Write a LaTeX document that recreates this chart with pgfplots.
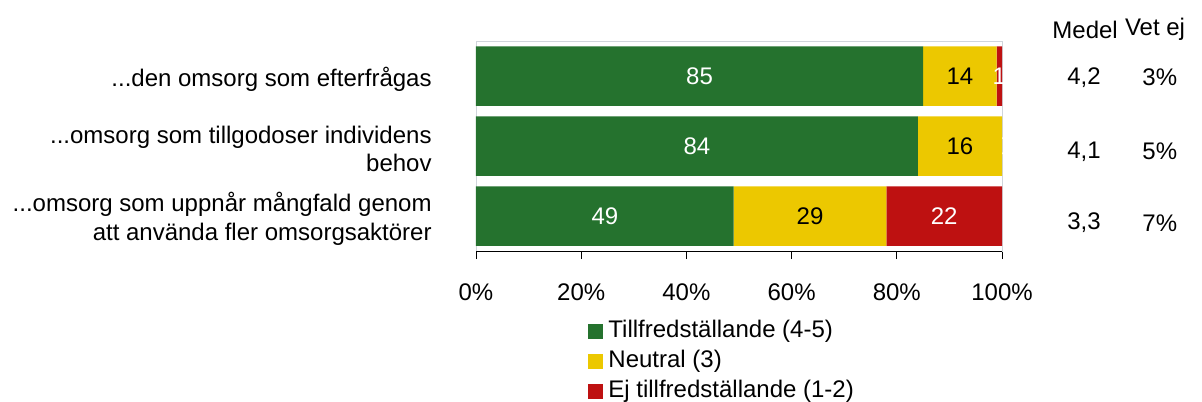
\documentclass[border=0pt]{standalone}
\usepackage{fontspec}
\setmainfont{Liberation Sans}
\usepackage{pgfplots}
\pgfplotsset{compat=1.18}
\definecolor{cgreen}{RGB}{37,114,46}
\definecolor{cyellow}{RGB}{236,200,0}
\definecolor{cred}{RGB}{190,17,17}
\definecolor{cframe}{RGB}{208,213,219}
\newcommand\dd{...}
\newcommand\ff{\fontsize{12}{14.2}\selectfont}
\begin{document}
\ff
\begin{tikzpicture}[font=\ff]
\begin{axis}[
  scale only axis, width=263pt, height=105pt,
  xbar stacked, bar width=0.85,
  xmin=0, xmax=100, ymin=-0.5, ymax=2.5,
  /pgf/number format/assume math mode=true,
  ytick={0,1,2},
  yticklabels={{\dd omsorg som uppnår mångfald genom\\att använda fler omsorgsaktörer},{\dd omsorg som tillgodoser individens\\behov},{\dd den omsorg som efterfrågas}},
  tick label style={font=\ff},
  yticklabel style={align=right, xshift=-14pt, yshift=-1.5pt},
  ytick style={draw=none},
  xtick={0,20,40,60,80,100},
  xticklabels={0\%,20\%,40\%,60\%,80\%,100\%},
  xticklabel style={yshift=-8pt},
  xtick pos=bottom, tick align=outside, major tick length=4pt,
  x tick style={black, thin},
  axis line style={cframe},
  clip=false,
  nodes near coords,
  nodes near coords style={font=\ff},
  legend style={at={(axis description cs:0.213,0)}, anchor=north west, yshift=-33.8pt, draw=none, fill=none, font=\ff, row sep=3pt, column sep=2.5pt, inner sep=0pt, nodes={inner sep=0pt, text height=9pt, text depth=3pt}},
  legend cell align=left,
  legend image code/.code={\fill[#1] (0pt,-3.75pt) rectangle (7.5pt,3.75pt);},
]
\addplot[fill=cgreen, draw=none, nodes near coords style={white}] coordinates {(49,0) (84,1) (85,2)};
\addplot[fill=cyellow, draw=none, nodes near coords style={black}] coordinates {(29,0) (16,1) (14,2)};
\addplot[fill=cred, draw=none, nodes near coords style={white}] coordinates {(22,0) (0,1) (1,2)};
\legend{Tillfredställande (4-5),Neutral (3),Ej tillfredställande (1-2)}
\node[white] at (axis cs:100,1) {0};
\node at (axis cs:115.8,2.664) {Medel};
\node at (axis cs:129.1,2.664) {Vet ej};
\node at (axis cs:115.6,1.976) {4,2};
\node at (axis cs:130.0,1.976) {3\%};
\node at (axis cs:115.6,0.919) {4,1};
\node at (axis cs:130.0,0.919) {5\%};
\node at (axis cs:115.6,-0.1) {3,3};
\node at (axis cs:130.0,-0.1) {7\%};
\end{axis}
\draw[black] (current axis.south west) -- (current axis.south east);
\pgfresetboundingbox
\path (current axis.south west) ++(-238pt,-75pt) rectangle ++(601pt,200.5pt);
\end{tikzpicture}
\end{document}
